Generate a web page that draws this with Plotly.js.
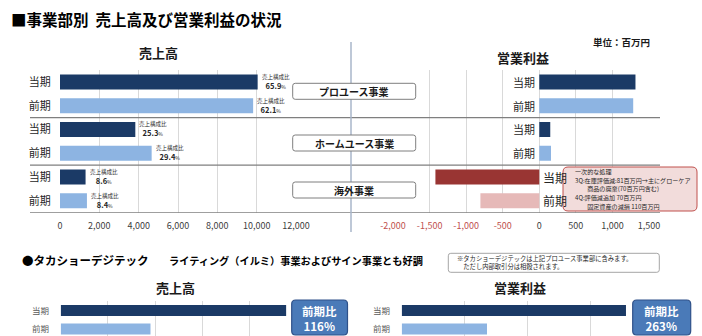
<!DOCTYPE html>
<html><head><meta charset="utf-8">
<script src="https://cdn.plot.ly/plotly-3.0.1.min.js"></script>
<style>html,body{margin:0;padding:0;background:#fff}#chart{width:702px;height:336px}</style>
</head><body><div id="chart"></div>
<script>
// ---- data ----
const segments = ['プロユース事業', 'ホームユース事業', '海外事業'];
const periods = ['当期', '前期'];
const salesCur = [10050, 3830, 1300];
const salesPrev = [9820, 4660, 1370];
const shareCur = [65.9, 25.3, 8.6];
const sharePrev = [62.1, 29.4, 8.4];
const opCur = [1315, 150, -1420];
const opPrev = [1284, 160, -805];
const salesTicks = [0, 2000, 4000, 6000, 8000, 10000, 12000];
const opTicks = [-2000, -1500, -1000, -500, 0, 500, 1000, 1500];
const digiSales = [2077, 1790];   // 当期, 前期
const digiOp = [178, 67.7];       // 当期, 前期
const noteLines = ['一次的な処理', '3Q:在庫評価減:81百万円→主にグローケア', '　　商品の廃棄(70百万円含む)', '4Q:評価減追加 70百万円', '　　固定資産の減損 110百万円'];
const digiNote = ['※タカショーデジテックは上記プロユース事業部に含みます。', '　ただし内部取引分は相殺されます。'];

// ---- helpers ----
const W = 702, H = 336;
const X = x => x / W;
const Y = y => 1 - y / H;
const FONT = '"Noto Sans CJK JP", "Noto Sans", sans-serif';
const C_CUR = '#1b3a66', C_PREV = '#8db4e2', C_RED = '#993533', C_PINK = '#e6b9b8';
const fmt = v => v.toLocaleString('en-US');
function rr(x0, y0, x1, y1, r) {
  const p = (x, y) => X(x) + ',' + Y(y);
  return 'M' + p(x0 + r, y0) + ' L' + p(x1 - r, y0) + ' Q' + p(x1, y0) + ' ' + p(x1, y0 + r) +
    ' L' + p(x1, y1 - r) + ' Q' + p(x1, y1) + ' ' + p(x1 - r, y1) +
    ' L' + p(x0 + r, y1) + ' Q' + p(x0, y1) + ' ' + p(x0, y1 - r) +
    ' L' + p(x0, y0 + r) + ' Q' + p(x0, y0) + ' ' + p(x0 + r, y0) + ' Z';
}
const curY = segments.map((s, i) => 2 * i);
const prevY = segments.map((s, i) => 2 * i + 1);
const allY = [0, 1, 2, 3, 4, 5];
const allLabels = segments.flatMap(() => periods);
const DIGI_BASE = 1600;

// ---- traces ----
const traces = [
  { type: 'bar', orientation: 'h', x: salesCur, y: curY, width: 0.63, marker: { color: C_CUR }, xaxis: 'x', yaxis: 'y', hoverinfo: 'skip' },
  { type: 'bar', orientation: 'h', x: salesPrev, y: prevY, width: 0.63, marker: { color: C_PREV }, xaxis: 'x', yaxis: 'y', hoverinfo: 'skip' },
  { type: 'bar', orientation: 'h', x: opCur, y: curY, width: 0.63, marker: { color: opCur.map(v => v < 0 ? C_RED : C_CUR) }, xaxis: 'x2', yaxis: 'y2', hoverinfo: 'skip' },
  { type: 'bar', orientation: 'h', x: opPrev, y: prevY, width: 0.63, marker: { color: opPrev.map(v => v < 0 ? C_PINK : C_PREV) }, xaxis: 'x2', yaxis: 'y2', hoverinfo: 'skip' },
  { type: 'bar', orientation: 'h', x: digiSales.map(v => v - DIGI_BASE), base: DIGI_BASE, y: [0, 1], width: 0.6, marker: { color: [C_CUR, C_PREV] }, xaxis: 'x3', yaxis: 'y3', hoverinfo: 'skip' },
  { type: 'bar', orientation: 'h', x: digiOp, y: [0, 1], width: 0.6, marker: { color: [C_CUR, C_PREV] }, xaxis: 'x4', yaxis: 'y4', hoverinfo: 'skip' }
];

const topDom = [Y(212.7), Y(70)];
const botDom = [0, Y(301.3)];
const tf = { family: FONT, size: 9, color: '#404040' };

const layout = {
  width: W, height: H, autosize: false,
  margin: { l: 0, r: 0, t: 0, b: 0 },
  paper_bgcolor: '#fff', plot_bgcolor: 'rgba(0,0,0,0)',
  showlegend: false, barmode: 'overlay',
  font: { family: FONT, color: '#262626' },
  xaxis: { domain: [X(60), X(296)], range: [0, 12000], anchor: 'y', tickvals: salesTicks, ticktext: salesTicks.map(fmt),
    showgrid: true, gridcolor: '#d9d9d9', zeroline: false, showline: false, tickfont: tf,
    ticks: 'outside', ticklen: 4, tickcolor: 'rgba(0,0,0,0)' },
  yaxis: { domain: topDom, range: [5.5, -0.5], anchor: 'x', tickvals: allY, ticktext: allLabels,
    showgrid: false, zeroline: false, showline: false, tickfont: { family: FONT, size: 11, color: '#262626' },
    ticks: 'outside', ticklen: 6, tickcolor: 'rgba(0,0,0,0)' },
  xaxis2: { domain: [X(393), X(649)], range: [-2000, 1500], anchor: 'y2', tickvals: opTicks,
    ticktext: opTicks.map(v => v < 0 ? '<span style="color:#c0504d">' + fmt(v) + '</span>' : fmt(v)),
    showgrid: true, gridcolor: '#d9d9d9', zeroline: false, showline: false, tickfont: tf,
    ticks: 'outside', ticklen: 4, tickcolor: 'rgba(0,0,0,0)' },
  yaxis2: { domain: topDom, range: [5.5, -0.5], anchor: 'x2', showticklabels: false, showgrid: false, zeroline: false, showline: false },
  xaxis3: { domain: [X(60.7), X(297)], range: [DIGI_BASE, DIGI_BASE + 500], anchor: 'y3', dtick: 100, showticklabels: false,
    showgrid: true, gridcolor: '#d9d9d9', zeroline: false, showline: false },
  yaxis3: { domain: botDom, range: [1.38, -0.5], anchor: 'x3', tickvals: [0, 1], ticktext: periods,
    showgrid: false, zeroline: false, showline: false, tickfont: { family: FONT, size: 8.5, color: '#595959' },
    ticks: 'outside', ticklen: 9, tickcolor: 'rgba(0,0,0,0)' },
  xaxis4: { domain: [X(401.7), X(653.7)], range: [0, 200], anchor: 'y4', dtick: 50, showticklabels: false,
    showgrid: true, gridcolor: '#d9d9d9', zeroline: false, showline: false },
  yaxis4: { domain: botDom, range: [1.38, -0.5], anchor: 'x4', tickvals: [0, 1], ticktext: periods,
    showgrid: false, zeroline: false, showline: false, tickfont: { family: FONT, size: 8.5, color: '#595959' },
    ticks: 'outside', ticklen: 9, tickcolor: 'rgba(0,0,0,0)' },
  shapes: [],
  annotations: []
};

const A = layout.annotations, S = layout.shapes;
const ann = (o) => A.push(Object.assign({ showarrow: false, xref: 'paper', yref: 'paper' }, o));

// dividers
[1.5, 3.5, 5.5].forEach(v => S.push({ type: 'line', xref: 'paper', yref: 'y', x0: X(30), x1: X(660), y0: v, y1: v,
  line: { color: '#7f7f7f', width: 1.3 }, layer: 'above' }));
// center line
S.push({ type: 'line', xref: 'paper', yref: 'paper', x0: X(351), x1: X(351), y0: Y(42), y1: Y(232), line: { color: '#a9b6ca', width: 1.5 }, layer: 'above' });

// segment label boxes
const boxY = [91.3, 143, 190];
segments.forEach((s, i) => {
  S.push({ type: 'path', xref: 'paper', yref: 'paper', path: rr(292.7, boxY[i] - 8, 415.7, boxY[i] + 8, 2.5),
    fillcolor: '#ffffff', line: { color: '#7f7f7f', width: 1 }, layer: 'above' });
  ann({ x: X(354.2), y: Y(boxY[i]), text: s, xanchor: 'center', yanchor: 'middle',
    font: { family: FONT, size: 10, color: '#1a1a1a', weight: 'bold' } });
});

// titles
ann({ x: X(9), y: Y(18.5), text: '■事業部別  売上高及び営業利益の状況', xanchor: 'left', yanchor: 'middle',
  font: { family: FONT, size: 15.5, color: '#000', weight: 'bold' } });
ann({ x: X(158), y: Y(52), text: '売上高', xanchor: 'center', yanchor: 'middle', font: { family: FONT, size: 13, color: '#1a1a1a', weight: 'bold' } });
ann({ x: X(522.5), y: Y(57), text: '営業利益', xanchor: 'center', yanchor: 'middle', font: { family: FONT, size: 13, color: '#1a1a1a', weight: 'bold' } });
ann({ x: X(652), y: Y(41.7), text: '単位：百万円', xanchor: 'right', yanchor: 'middle', font: { family: FONT, size: 9.5, color: '#1a1a1a', weight: 'bold' } });

// share labels
const shareText = v => '<span style="font-size:5.5px">売上構成比</span><br><b>' + v.toFixed(1) + '</b><span style="font-size:5px">%</span>';
segments.forEach((s, i) => {
  A.push({ showarrow: false, xref: 'x', yref: 'y', x: salesCur[i], y: curY[i], xanchor: 'left', yanchor: 'middle', xshift: 2,
    text: shareText(shareCur[i]), align: 'center', font: { family: FONT, size: 7.5, color: '#262626' } });
  A.push({ showarrow: false, xref: 'x', yref: 'y', x: salesPrev[i], y: prevY[i], xanchor: 'left', yanchor: 'middle', xshift: 2,
    text: shareText(sharePrev[i]), align: 'center', font: { family: FONT, size: 7.5, color: '#262626' } });
});

// right-side period labels next to zero
segments.forEach((s, i) => {
  [[opCur[i], curY[i], periods[0]], [opPrev[i], prevY[i], periods[1]]].forEach(([v, yy, t]) => {
    const neg = v < 0;
    A.push({ showarrow: false, xref: 'x2', yref: 'y2', x: 0, y: yy, text: t,
      xanchor: neg ? 'left' : 'right', yanchor: 'middle', xshift: neg ? 2 : -2,
      font: { family: FONT, size: neg ? 12 : 11, color: '#262626' } });
  });
});

// one-off note box
S.push({ type: 'path', xref: 'paper', yref: 'paper', path: rr(563, 167, 697, 211, 5),
  fillcolor: '#f2dcdb', line: { color: '#c0504d', width: 1 }, layer: 'above' });
const noteYs = [171.5, 180.2, 188.9, 197.6, 206.3];
noteLines.forEach((t, i) => ann({ x: X(573), y: Y(noteYs[i]), text: t, xanchor: 'left', yanchor: 'middle',
  font: { family: FONT, size: 6.1, color: '#262626' } }));

// bottom section
ann({ x: X(20), y: Y(260), text: '●タカショーデジテック', xanchor: 'left', yanchor: 'middle', font: { family: FONT, size: 11.5, color: '#000', weight: 'bold' } });
ann({ x: X(167), y: Y(260), text: 'ライティング（イルミ）事業およびサイン事業とも好調', xanchor: 'left', yanchor: 'middle', font: { family: FONT, size: 10.2, color: '#000', weight: 'bold' } });
S.push({ type: 'path', xref: 'paper', yref: 'paper', path: rr(448.3, 253.3, 659.3, 272.3, 2.5),
  fillcolor: '#ffffff', line: { color: '#a6a6a6', width: 1 }, layer: 'above' });
ann({ x: X(455), y: Y(262.8), text: digiNote.join('<br>'), xanchor: 'left', yanchor: 'middle', align: 'left',
  font: { family: FONT, size: 6.3, color: '#262626' } });
ann({ x: X(175), y: Y(287), text: '売上高', xanchor: 'center', yanchor: 'middle', font: { family: FONT, size: 13, color: '#1a1a1a', weight: 'bold' } });
ann({ x: X(520), y: Y(287), text: '営業利益', xanchor: 'center', yanchor: 'middle', font: { family: FONT, size: 13, color: '#1a1a1a', weight: 'bold' } });

// ratio boxes
const ratioBoxes = [[291.7, 347.5, digiSales], [632.7, 690.7, digiOp]];
ratioBoxes.forEach(([x0, x1, d]) => {
  S.push({ type: 'path', xref: 'paper', yref: 'paper', path: rr(x0, 300, x1, 335, 4),
    fillcolor: '#4a7ab8', line: { color: '#2f5189', width: 1.2 }, layer: 'above' });
  ann({ x: X((x0 + x1) / 2), y: Y(318.5), text: '前期比<br>' + Math.round(d[0] / d[1] * 100) + '%', xanchor: 'center', yanchor: 'middle',
    align: 'center', font: { family: FONT, size: 11.5, color: '#ffffff', weight: 'bold' } });
});

Plotly.newPlot('chart', traces, layout, { staticPlot: true, displayModeBar: false });
</script>
</body></html>
